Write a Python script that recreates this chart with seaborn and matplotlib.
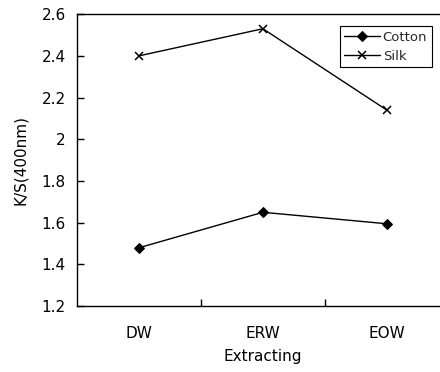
import numpy as np
import matplotlib
matplotlib.use("Agg")
import matplotlib.pyplot as plt
import pandas as pd
import seaborn as sns

categories = ["DW", "ERW", "EOW"]
cotton = [1.48, 1.65, 1.595]
silk = [2.40, 2.53, 2.14]

sns.set_theme(style="white")
plt.rcParams["font.family"] = ["DejaVu Sans"]

positions = list(range(len(categories)))

fig = plt.figure(figsize=(4.4, 3.72), dpi=100)
ax = fig.add_axes([0.175, 0.177, 0.845, 0.785])

sns.lineplot(x=positions, y=cotton, color="black", marker="D", markersize=5,
             markeredgecolor="black", linewidth=1, label="Cotton", ax=ax)
sns.lineplot(x=positions, y=silk, color="black", marker="x", markersize=6,
             markeredgecolor="black", markeredgewidth=1.1, linewidth=1,
             label="Silk", ax=ax)

ax.set_xlim(-0.5, 2.5)
ax.set_ylim(1.2, 2.6)
yt = np.round(np.arange(1.2, 2.61, 0.2), 1)
ax.set_yticks(yt)
ax.set_yticklabels([f"{v:g}" for v in yt])
ax.set_xticks([0.5, 1.5])
ax.set_xticklabels([])
ax.set_xticks(positions, minor=True)
ax.set_xticklabels(categories, minor=True)
ax.tick_params(axis="x", which="major", direction="in", length=5, width=1, color="black", bottom=True)
ax.tick_params(axis="x", which="minor", length=0, pad=14, labelsize=11, labelcolor="black")
ax.tick_params(axis="y", direction="in", length=5, width=1, color="black",
               left=True, labelsize=11, labelcolor="black", pad=8)
for s in ax.spines.values():
    s.set_color("black")
    s.set_linewidth(1)

ax.set_xlabel("Extracting", fontsize=11, color="black", labelpad=6)
ax.set_ylabel("K/S(400nm)", fontsize=11, color="black", labelpad=10)

leg = ax.legend(
    loc="upper left",
    bbox_to_anchor=(0.707, 0.959),
    frameon=True,
    fancybox=False,
    edgecolor="black",
    framealpha=1,
    fontsize=9.5,
    handlelength=2.7,
    handletextpad=0.2,
    borderpad=0.35,
    borderaxespad=0,
    labelspacing=0.45,
)
leg.get_frame().set_linewidth(0.8)

fig.savefig("out.png", dpi=100)
